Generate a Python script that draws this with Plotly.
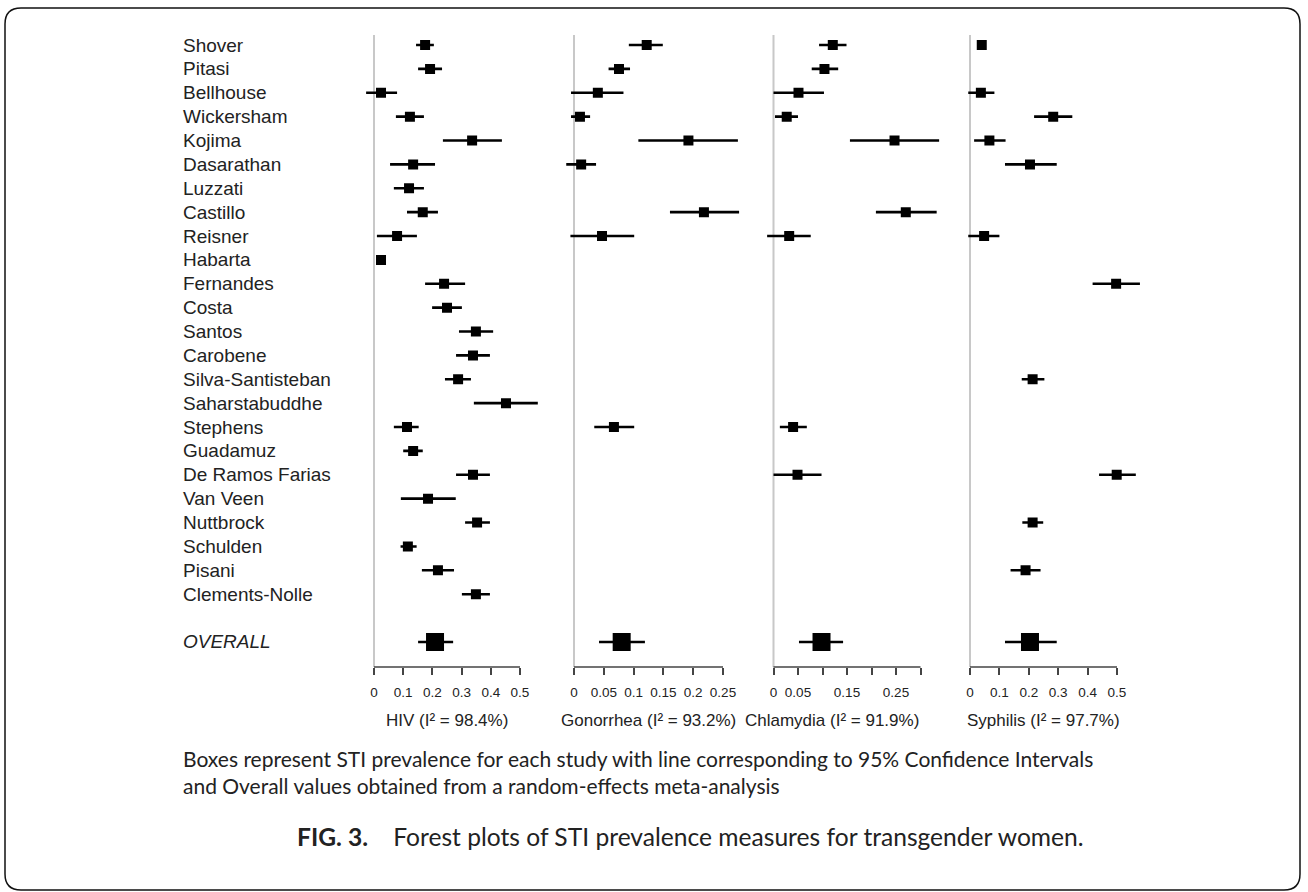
import plotly.graph_objects as go

# ---------------- data ----------------
studies = ["Shover", "Pitasi", "Bellhouse", "Wickersham", "Kojima", "Dasarathan",
           "Luzzati", "Castillo", "Reisner", "Habarta", "Fernandes", "Costa",
           "Santos", "Carobene", "Silva-Santisteban", "Saharstabuddhe", "Stephens",
           "Guadamuz", "De Ramos Farias", "Van Veen", "Nuttbrock", "Schulden",
           "Pisani", "Clements-Nolle"]

hiv_est = [0.175, 0.192, 0.024, 0.123, 0.336, 0.134, 0.120, 0.167, 0.079, 0.024,
           0.240, 0.250, 0.349, 0.339, 0.288, 0.452, 0.113, 0.134, 0.339, 0.185,
           0.353, 0.116, 0.219, 0.349]
hiv_lo = [0.144, 0.151, -0.027, 0.075, 0.236, 0.055, 0.068, 0.113, 0.010, 0.015,
          0.175, 0.199, 0.291, 0.281, 0.243, 0.342, 0.068, 0.100, 0.281, 0.092,
          0.312, 0.091, 0.164, 0.301]
hiv_hi = [0.205, 0.233, 0.079, 0.171, 0.438, 0.209, 0.171, 0.219, 0.147, 0.033,
          0.312, 0.301, 0.408, 0.397, 0.332, 0.561, 0.153, 0.167, 0.397, 0.280,
          0.397, 0.146, 0.274, 0.397]

N = None
gon_est = [0.122, 0.0755, 0.040, 0.010, 0.192, 0.012, N, 0.218, 0.047, N,
           N, N, N, N, N, N, 0.067, N, N, N, N, N, N, N]
gon_lo = [0.092, 0.058, -0.005, -0.005, 0.108, -0.013, N, 0.161, -0.006, N,
          N, N, N, N, N, N, 0.034, N, N, N, N, N, N, N]
gon_hi = [0.149, 0.094, 0.083, 0.027, 0.275, 0.037, N, 0.277, 0.101, N,
          N, N, N, N, N, N, 0.101, N, N, N, N, N, N, N]

chl_est = [0.121, 0.104, 0.051, 0.027, 0.247, N, N, 0.270, 0.032, N,
           N, N, N, N, N, N, 0.040, N, 0.049, N, N, N, N, N]
chl_lo = [0.093, 0.078, 0.000, 0.003, 0.156, N, N, 0.209, -0.013, N,
          N, N, N, N, N, N, 0.013, N, 0.000, N, N, N, N, N]
chl_hi = [0.149, 0.132, 0.103, 0.050, 0.338, N, N, 0.333, 0.076, N,
          N, N, N, N, N, N, 0.068, N, 0.098, N, N, N, N, N]

syp_est = [0.040, N, 0.037, 0.283, 0.066, 0.204, N, N, 0.048, N,
           0.497, N, N, N, 0.213, N, N, N, 0.499, N, 0.213, N, 0.189, N]
syp_lo = [0.030, N, -0.006, 0.218, 0.014, 0.119, N, N, -0.006, N,
          0.417, N, N, N, 0.176, N, N, N, 0.439, N, 0.178, N, 0.138, N]
syp_hi = [0.050, N, 0.083, 0.348, 0.121, 0.295, N, N, 0.100, N,
          0.578, N, N, N, 0.253, N, N, N, 0.564, N, 0.249, N, 0.240, N]

overall_est = [0.209, 0.080, 0.098, 0.204]
overall_lo = [0.151, 0.042, 0.052, 0.119]
overall_hi = [0.271, 0.119, 0.142, 0.295]

panel_titles = ["HIV (I\u00b2 = 98.4%)", "Gonorrhea (I\u00b2 = 93.2%)",
                "Chlamydia (I\u00b2 = 91.9%)", "Syphilis (I\u00b2 = 97.7%)"]
tick_vals = [[0, 0.1, 0.2, 0.3, 0.4, 0.5],
             [0, 0.05, 0.1, 0.15, 0.2, 0.25],
             [0, 0.05, 0.1, 0.15, 0.2, 0.25, 0.3],
             [0, 0.1, 0.2, 0.3, 0.4, 0.5]]
tick_text = [["0", "0.1", "0.2", "0.3", "0.4", "0.5"],
             ["0", "0.05", "0.1", "0.15", "0.2", "0.25"],
             ["0", "0.05", "", "0.15", "", "0.25", ""],
             ["0", "0.1", "0.2", "0.3", "0.4", "0.5"]]
overall_label = "OVERALL"
note_lines = ["Boxes represent STI prevalence for each study with line corresponding to 95% Confidence Intervals",
              "and Overall values obtained from a random-effects meta-analysis"]
fig_label = "FIG. 3."
fig_caption = "Forest plots of STI prevalence measures for transgender women."

# ---------------- layout geometry (pixels) ----------------
W, H = 1308, 892
panel_zero_px = [374, 574, 773.5, 970]
panel_px_per_unit = [292, 596, 490, 294]
panel_range = [[-0.05, 0.6], [-0.025, 0.29], [-0.03, 0.35], [-0.05, 0.6]]
title_x = [0.25, 0.125, 0.12, 0.25]
plot_top_px, plot_bottom_px = 35, 667
row_overall = len(studies) + 1
y_range = [26.05, -0.42]

def px(x):
    return x / W

def py(y):
    return 1 - y / H

fig = go.Figure()
series = [(hiv_est, hiv_lo, hiv_hi), (gon_est, gon_lo, gon_hi),
          (chl_est, chl_lo, chl_hi), (syp_est, syp_lo, syp_hi)]

axis_font = dict(family="Liberation Sans, Arial", size=13.5, color="#222")

for k, (est, lo, hi) in enumerate(series):
    xs, ys, plus, minus = [], [], [], []
    for i, v in enumerate(est):
        if v is None:
            continue
        xs.append(v)
        ys.append(i)
        plus.append(hi[i] - v)
        minus.append(v - lo[i])
    xa = "x" if k == 0 else f"x{k+1}"
    ya = "y" if k == 0 else f"y{k+1}"
    fig.add_trace(go.Scatter(
        x=xs, y=ys, mode="markers", xaxis=xa, yaxis=ya,
        marker=dict(symbol="square", size=10, color="black"),
        error_x=dict(type="data", array=plus, arrayminus=minus, color="black",
                     thickness=2.6, width=0, symmetric=False),
        showlegend=False, hoverinfo="skip"))
    fig.add_trace(go.Scatter(
        x=[overall_est[k]], y=[row_overall], mode="markers", xaxis=xa, yaxis=ya,
        marker=dict(symbol="square", size=18, color="black"),
        error_x=dict(type="data", array=[overall_hi[k] - overall_est[k]],
                     arrayminus=[overall_est[k] - overall_lo[k]], color="black",
                     thickness=2.6, width=0, symmetric=False),
        showlegend=False, hoverinfo="skip"))

    z, s = panel_zero_px[k], panel_px_per_unit[k]
    r = panel_range[k]
    dom = [px(z + r[0] * s), px(z + r[1] * s)]
    xkey = "xaxis" if k == 0 else f"xaxis{k+1}"
    ykey = "yaxis" if k == 0 else f"yaxis{k+1}"
    fig.update_layout(**{
        xkey: dict(domain=dom, range=r, anchor=ya, showgrid=False, zeroline=False,
                   showline=False, ticks="outside", ticklen=7, tickwidth=1.5,
                   tickcolor="#444", tickvals=tick_vals[k], ticktext=tick_text[k],
                   tickfont=axis_font, ticklabelstandoff=6, fixedrange=True),
        ykey: dict(domain=[py(plot_bottom_px), py(plot_top_px)], range=y_range,
                   anchor=xa, showgrid=False, zeroline=False, showline=False,
                   showticklabels=False, ticks="", fixedrange=True),
    })
    # reference line at zero
    fig.add_shape(type="line", xref=xa, yref=f"{ya} domain", x0=0, x1=0, y0=0, y1=1,
                  line=dict(color="#c8c8c8", width=2), layer="below")
    # axis line spanning the tick range
    fig.add_shape(type="line", xref=xa, yref=f"{ya} domain", x0=tick_vals[k][0],
                  x1=tick_vals[k][-1], y0=0, y1=0, line=dict(color="#444", width=1.5))
    # panel title
    fig.add_annotation(text=panel_titles[k], xref=xa, yref="paper", x=title_x[k],
                       y=py(720), xanchor="center", yanchor="middle", showarrow=False,
                       font=dict(family="Liberation Sans, Arial", size=17, color="#222"))

# study labels
label_font = dict(family="Liberation Sans, Arial", size=19, color="#222")
for i, name in enumerate(studies):
    fig.add_annotation(text=name, xref="paper", yref="y", x=px(181), y=i,
                       xanchor="left", yanchor="middle", showarrow=False, font=label_font)
fig.add_annotation(text=f"<i>{overall_label}</i>", xref="paper", yref="y", x=px(181),
                   y=row_overall, xanchor="left", yanchor="middle", showarrow=False,
                   font=label_font)

# notes and caption
note_font = dict(family="Lato, Noto Sans, sans-serif", size=21, color="#222")
for j, line in enumerate(note_lines):
    fig.add_annotation(text=line, xref="paper", yref="paper", x=px(181), y=py(758 + 27 * j),
                       xanchor="left", yanchor="middle", showarrow=False, font=note_font)
fig.add_annotation(text=f"<b>{fig_label}</b>\u00a0\u00a0\u00a0 {fig_caption}",
                   xref="paper", yref="paper", x=px(295), y=py(836), xanchor="left",
                   yanchor="middle", showarrow=False,
                   font=dict(family="Lato, Noto Sans, sans-serif", size=24.6, color="#222"))

# rounded frame
x0, y0, x1, y1 = px(5), py(8), px(1300), py(890)
rx, ry = 16 / W, 16 / H
path = (f"M {x0+rx},{y0} L {x1-rx},{y0} Q {x1},{y0} {x1},{y0-ry} "
        f"L {x1},{y1+ry} Q {x1},{y1} {x1-rx},{y1} L {x0+rx},{y1} "
        f"Q {x0},{y1} {x0},{y1+ry} L {x0},{y0-ry} Q {x0},{y0} {x0+rx},{y0} Z")
fig.add_shape(type="path", xref="paper", yref="paper", path=path,
              line=dict(color="#111", width=1.5))

fig.update_layout(width=W, height=H, margin=dict(l=0, r=0, t=0, b=0),
                  paper_bgcolor="white", plot_bgcolor="white")

fig.write_html("out.html", config={"displayModeBar": False},
               post_script="document.body.style.margin='0';document.body.style.overflow='hidden';")
